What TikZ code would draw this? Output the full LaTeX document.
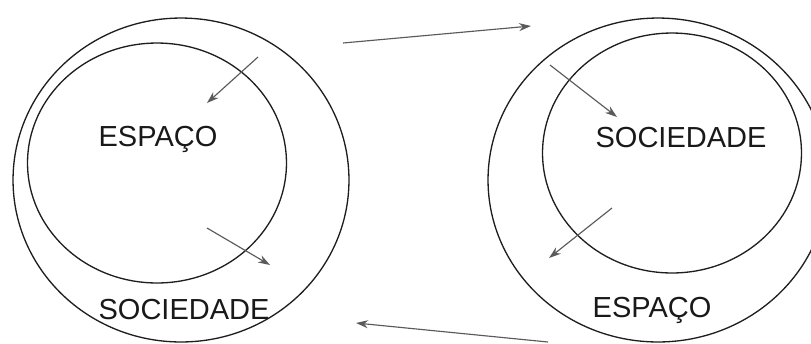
\documentclass[tikz,border=0pt]{standalone}
\usepackage{fontspec}
\setmainfont{Liberation Sans}
\usepackage{tikz}
\usetikzlibrary{arrows.meta,shapes.geometric}
\definecolor{ringGray}{HTML}{1E1E1E}
\definecolor{arrowGray}{HTML}{5A5A5A}
\tikzset{
  ring/.style={ellipse, draw=ringGray, line width=0.75pt, inner sep=0pt},
  flow/.style={-{Stealth[length=2.4mm, width=1.6mm]}, line width=0.65pt,
    draw=arrowGray},
  big label/.style={font=\fontsize{16.5}{18}\selectfont, text=black!90,
    inner sep=0pt}
}

\begin{document}
\begin{tikzpicture}[x=0.02cm, y=-0.02cm]
  \clip (0,0) rectangle (811,343);
  \fill[white] (0,0) rectangle (811,343);
  % left: sociedade contains espaco
  \node[ring, minimum width=6.72cm, minimum height=6.48cm] (lout) at (181,180) {};
  \node[ring, minimum width=5.18cm, minimum height=4.80cm] (lin) at (157,163) {};
  \node[big label] (lesp) at (158,139) {ESPAÇO};
  \node[big label] (lsoc) at (184,310) {SOCIEDADE};
  \coordinate (la1) at (258,57);  \coordinate (la2) at (207,103);
  \coordinate (lb1) at (207,228); \coordinate (lb2) at (270,265);
  \draw[flow] (la1) -- (la2);
  \draw[flow] (lb1) -- (lb2);

  % right: espaco contains sociedade
  \node[ring, minimum width=6.80cm, minimum height=6.48cm] (rout) at (658,180) {};
  \node[ring, minimum width=5.18cm, minimum height=4.80cm] (rin) at (672,153) {};
  \node[big label] (rsoc) at (681,138) {SOCIEDADE};
  \node[big label] (resp) at (652,310) {ESPAÇO};
  \coordinate (ra1) at (550,65);  \coordinate (ra2) at (617,117);
  \coordinate (rb1) at (612,208); \coordinate (rb2) at (549,258);
  \draw[flow] (ra1) -- (ra2);
  \draw[flow] (rb1) -- (rb2);

  % cycle between the two views
  \coordinate (ta) at (343,43);  \coordinate (tb) at (531,26);
  \coordinate (ba) at (548,342); \coordinate (bb) at (356,323);
  \draw[flow] (ta) -- (tb);
  \draw[flow] (ba) -- (bb);
\end{tikzpicture}
\end{document}
